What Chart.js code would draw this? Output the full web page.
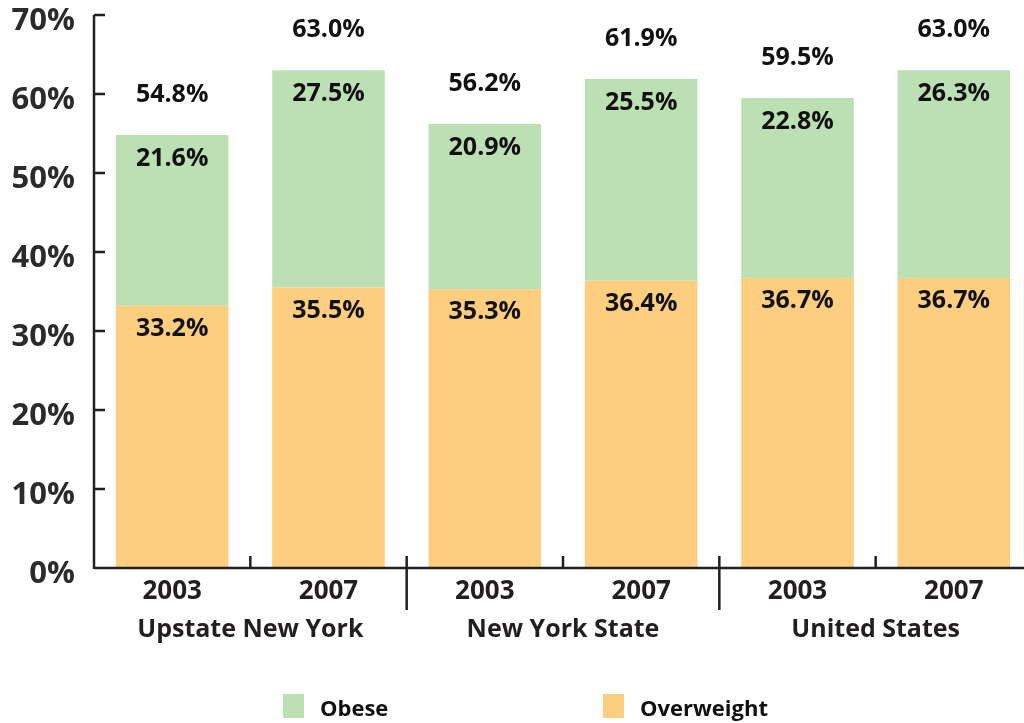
<!DOCTYPE html>
<html>
<head>
<meta charset="utf-8">
<script src="https://cdn.jsdelivr.net/npm/chart.js@4"></script>
<style>
  html, body { margin: 0; padding: 0; background: #fff; overflow: hidden; }
  #wrap { width: 1024px; height: 723px; overflow: hidden; }
</style>
</head>
<body>
<div id="wrap"><canvas id="myChart" width="1032" height="723"></canvas></div>
<script>
let years = ["2003", "2007", "2003", "2007", "2003", "2007"];
let groups = ["Upstate New York", "New York State", "United States"];
let overweight = [33.2, 35.5, 35.3, 36.4, 36.7, 36.7];
let obese = [21.6, 27.5, 20.9, 25.5, 22.8, 26.3];
let totals = [54.8, 63.0, 56.2, 61.9, 59.5, 63.0];
let yTicks = [0, 10, 20, 30, 40, 50, 60, 70];

const ink = "#231f20";
const font = "'Open Sans', 'Noto Sans', sans-serif";

// axes, group labels, value labels and legend
const extras = {
    id: "extras",
    afterDatasetsDraw(chart) {
        const ctx = chart.ctx;
        const x = chart.scales.x, y = chart.scales.y;
        const area = chart.chartArea;
        ctx.save();
        ctx.strokeStyle = ink;
        ctx.lineWidth = 2.5;
        ctx.lineCap = "butt";

        // y axis with inner ticks
        ctx.beginPath();
        ctx.moveTo(area.left, y.getPixelForValue(70));
        ctx.lineTo(area.left, y.getPixelForValue(0) + 1);
        yTicks.forEach(function(v) {
            let py = y.getPixelForValue(v);
            ctx.moveTo(area.left, py);
            ctx.lineTo(area.left + 11, py);
        });
        // x axis
        let base = y.getPixelForValue(0);
        ctx.moveTo(area.left, base);
        ctx.lineTo(chart.width, base);
        for (let i = 0; i < years.length - 1; i++) {
            let px = (x.getPixelForValue(i) + x.getPixelForValue(i + 1)) / 2;
            ctx.moveTo(px, base - 12);
            ctx.lineTo(px, (i % 2 === 1) ? base + 42 : base);
        }
        ctx.stroke();

        // group labels
        ctx.fillStyle = ink;
        ctx.font = "bold 25px " + font;
        ctx.textAlign = "center";
        ctx.textBaseline = "middle";
        groups.forEach(function(g, i) {
            let px = (x.getPixelForValue(i * 2) + x.getPixelForValue(i * 2 + 1)) / 2;
            ctx.fillText(g, px, 630);
        });

        // value labels
        ctx.fillStyle = "#111";
        ctx.font = "bold 25px " + font;
        const metaOver = chart.getDatasetMeta(0);
        const metaOb = chart.getDatasetMeta(1);
        overweight.forEach(function(v, i) {
            let bar = metaOver.data[i];
            ctx.fillText(v.toFixed(1) + "%", bar.x, bar.y + 23);
        });
        obese.forEach(function(v, i) {
            let bar = metaOb.data[i];
            ctx.fillText(v.toFixed(1) + "%", bar.x, bar.y + 24);
        });
        totals.forEach(function(v, i) {
            let bar = metaOb.data[i];
            ctx.fillText(v.toFixed(1) + "%", bar.x, y.getPixelForValue(v) - 40);
        });

        // legend
        ctx.font = "bold 22px " + font;
        ctx.textAlign = "left";
        ctx.textBaseline = "alphabetic";
        const items = [
            { text: "Obese", color: chart.data.datasets[1].backgroundColor, x: 283 },
            { text: "Overweight", color: chart.data.datasets[0].backgroundColor, x: 603 }
        ];
        items.forEach(function(it) {
            ctx.fillStyle = it.color;
            ctx.fillRect(it.x, 694, 21, 24);
            ctx.fillStyle = "#111";
            ctx.fillText(it.text, it.x + 37, 716);
        });
        ctx.restore();
    }
};

let myChart = document.getElementById("myChart").getContext("2d");
let obesityChart = new Chart(myChart, {
    type: "bar",
    data: {
        labels: years,
        datasets: [{
            label: "Overweight",
            data: overweight,
            backgroundColor: "#fdcd80"
        }, {
            label: "Obese",
            data: obese,
            backgroundColor: "#bddfb4"
        }]
    },
    options: {
        responsive: false,
        animation: false,
        devicePixelRatio: 1,
        layout: { padding: { top: 15, right: 0, left: 0, bottom: 0 } },
        datasets: {
            bar: { barPercentage: 0.72, categoryPercentage: 1 }
        },
        plugins: {
            title: { display: false },
            legend: { display: false },
            tooltip: { enabled: false }
        },
        scales: {
            x: {
                stacked: true,
                grid: { display: false, drawTicks: false },
                border: { display: false },
                ticks: {
                    color: ink,
                    padding: 8,
                    font: { family: font, size: 26, weight: "bold" }
                },
                afterFit: function(scale) {
                    scale.height = 155;
                    scale.paddingLeft = 0;
                    scale.paddingRight = 0;
                }
            },
            y: {
                stacked: true,
                min: 0,
                max: 70,
                grid: { display: false, drawTicks: false },
                border: { display: false },
                afterBuildTicks: function(scale) {
                    scale.ticks = yTicks.map(function(v) { return { value: v }; });
                },
                ticks: {
                    color: "#2d2a2b",
                    padding: 19,
                    labelOffset: 6,
                    font: { family: font, size: 31, weight: "bold" },
                    callback: function(value) { return value + "%"; }
                },
                afterFit: function(scale) {
                    scale.width = 94;
                    scale.paddingTop = 0;
                    scale.paddingBottom = 0;
                }
            }
        }
    },
    plugins: [extras]
});
</script>
</body>
</html>
